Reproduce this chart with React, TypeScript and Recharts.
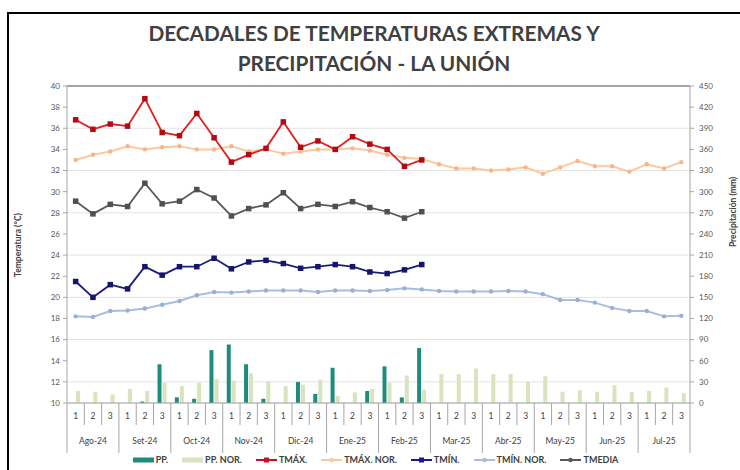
import React from 'react';
import {
  ComposedChart, Bar, Line, XAxis, YAxis, CartesianGrid, ReferenceLine,
} from 'recharts';

const months = ['Ago-24', 'Set-24', 'Oct-24', 'Nov-24', 'Dic-24', 'Ene-25', 'Feb-25', 'Mar-25', 'Abr-25', 'May-25', 'Jun-25', 'Jul-25'];
const decades = ['1', '2', '3'];

const tmax = [36.8, 35.9, 36.4, 36.2, 38.8, 35.6, 35.3, 37.4, 35.1, 32.8, 33.5, 34.1, 36.6, 34.2, 34.8, 34.0, 35.2, 34.5, 34.0, 32.4, 33.0];
const tmaxNor = [33.0, 33.5, 33.8, 34.3, 34.0, 34.2, 34.3, 34.0, 34.0, 34.3, 33.8, 34.0, 33.6, 33.8, 34.0, 34.0, 34.1, 33.9, 33.5, 33.2, 33.1, 32.6, 32.2, 32.2, 32.0, 32.1, 32.3, 31.7, 32.3, 32.9, 32.4, 32.4, 31.9, 32.6, 32.2, 32.8];
const tmedia = [29.1, 27.9, 28.8, 28.6, 30.8, 28.85, 29.1, 30.2, 29.4, 27.7, 28.4, 28.75, 29.9, 28.4, 28.8, 28.6, 29.05, 28.5, 28.1, 27.5, 28.1];
const tmin = [21.5, 20.0, 21.2, 20.8, 22.9, 22.1, 22.9, 22.9, 23.7, 22.7, 23.35, 23.5, 23.2, 22.75, 22.9, 23.1, 22.9, 22.4, 22.25, 22.6, 23.1];
const tminNor = [18.2, 18.15, 18.7, 18.75, 18.95, 19.3, 19.65, 20.2, 20.5, 20.45, 20.55, 20.65, 20.65, 20.65, 20.5, 20.65, 20.65, 20.6, 20.7, 20.85, 20.75, 20.6, 20.55, 20.55, 20.55, 20.6, 20.55, 20.3, 19.75, 19.75, 19.5, 19.0, 18.7, 18.7, 18.2, 18.25];
const pp = [0, 0, 0, 0, 2, 55, 8, 6, 75, 83, 55, 6, 0, 30, 13, 50, 0, 17, 52, 8, 78];
const ppNor = [17, 16, 12, 20, 17, 29, 24, 29, 34, 32, 42, 31, 24, 26, 33, 10, 15, 20, 29, 39, 19, 41, 41, 49, 41, 41, 30, 38, 16, 18, 16, 25, 16, 17, 22, 14];

const tempTicks = [10, 12, 14, 16, 18, 20, 22, 24, 26, 28, 30, 32, 34, 36, 38, 40];
const ppTicks = [0, 30, 60, 90, 120, 150, 180, 210, 240, 270, 300, 330, 360, 390, 420, 450];

const data = months.flatMap((m, mi) =>
  decades.map((d, di) => {
    const i = mi * 3 + di;
    return {
      key: `${m}-${d}`,
      month: m,
      dec: d,
      tmax: tmax[i] ?? null,
      tmaxNor: tmaxNor[i] ?? null,
      tmedia: tmedia[i] ?? null,
      tmin: tmin[i] ?? null,
      tminNor: tminNor[i] ?? null,
      pp: pp[i] ?? null,
      ppNor: ppNor[i] ?? null,
    };
  })
);

const FONT = 'Lato, "Open Sans", sans-serif';
const N = data.length;
const PLOT_W = 623;

const squareDot = (fill: string, size: number) => (props: any) => {
  const { cx, cy, index } = props;
  if (cx == null || cy == null) return <g key={`e${index}`} />;
  return <rect key={`d${index}`} x={cx - size / 2} y={cy - size / 2} width={size} height={size} fill={fill} />;
};
const circleDot = (fill: string, r: number) => (props: any) => {
  const { cx, cy, index } = props;
  if (cx == null || cy == null) return <g key={`e${index}`} />;
  return <circle key={`d${index}`} cx={cx} cy={cy} r={r} fill={fill} />;
};

const CatTick = (props: any) => {
  const { x, y, payload, index } = props;
  const half = payload && payload.offset ? payload.offset : PLOT_W / N / 2;
  const item = data[index] || data[0];
  const di = decades.indexOf(item.dec);
  const sepColor = '#A6A6A6';
  return (
    <g>
      <line x1={x - half} x2={x - half} y1={y} y2={y + (di === 0 ? 50 : 22)} stroke={sepColor} strokeWidth={1} />
      {index === N - 1 && (
        <line x1={x + half} x2={x + half} y1={y} y2={y + 50} stroke={sepColor} strokeWidth={1} />
      )}
      <text x={x} y={y + 16} textAnchor="middle" fontSize={8.5} fill="#404040" fontFamily={FONT}>{item.dec}</text>
      {di === 1 && (
        <text x={x} y={y + 41} textAnchor="middle" fontSize={8.5} fill="#404040" fontFamily={FONT}>{item.month}</text>
      )}
    </g>
  );
};

const LegendItem = ({ kind, color, marker, label }: any) => (
  <div style={{ display: 'flex', alignItems: 'center', marginRight: 14 }}>
    <svg width={21} height={8} style={{ marginRight: 2 }}>
      {kind === 'bar' ? (
        <rect x={0} y={1.5} width={21} height={5} fill={color} />
      ) : (
        <g>
          <line x1={0} x2={21} y1={4} y2={4} stroke={color} strokeWidth={2} />
          {marker === 'square' ? (
            <rect x={8} y={1.5} width={5} height={5} fill={color} />
          ) : (
            <circle cx={10.5} cy={4} r={2.2} fill={color} />
          )}
        </g>
      )}
    </svg>
    <span>{label}</span>
  </div>
);

export default function App() {
  return (
    <div style={{ position: 'fixed', left: 0, top: 0, width: 740, height: 470, overflow: 'hidden', background: '#fff' }}>
      <div style={{ position: 'absolute', left: 7, top: 12, width: 760, height: 490, border: '2px solid #000', boxSizing: 'border-box' }} />
      <div style={{ position: 'absolute', left: 0, top: 18, width: 748, textAlign: 'center', fontFamily: FONT, fontWeight: 700, fontSize: 20.8, lineHeight: '30px', color: '#404040' }}>
        DECADALES DE TEMPERATURAS EXTREMAS Y<br />PRECIPITACIÓN - LA UNIÓN
      </div>
      <div style={{ position: 'absolute', left: 0, top: 0 }}>
        <ComposedChart width={740} height={470} data={data} margin={{ top: 86, right: 0, bottom: 12, left: 0 }} barGap={1} barSize={4}>
          <CartesianGrid vertical={false} stroke="#E3E3E3" yAxisId="left" />
          <XAxis dataKey="key" interval={0} tick={<CatTick />} tickLine={false} tickSize={0} tickMargin={0} height={55} axisLine={{ stroke: '#A6A6A6' }} />
          <YAxis yAxisId="left" domain={[10, 40]} ticks={tempTicks} width={67} tickSize={4} tickMargin={3}
            tick={{ fontSize: 8, fill: '#595959', fontFamily: FONT }} axisLine={{ stroke: '#A6A6A6' }} tickLine={{ stroke: '#A6A6A6' }} allowDataOverflow />
          <YAxis yAxisId="right" orientation="right" domain={[0, 450]} ticks={ppTicks} width={50} tickSize={4} tickMargin={5}
            tick={{ fontSize: 8, fill: '#595959', fontFamily: FONT }} axisLine={{ stroke: '#A6A6A6' }} tickLine={{ stroke: '#A6A6A6' }} />
          <ReferenceLine yAxisId="left" y={40} stroke="#8C8C8C" strokeWidth={1.5} />
          <Bar yAxisId="right" dataKey="pp" fill="#1D8C7C" isAnimationActive={false} />
          <Bar yAxisId="right" dataKey="ppNor" fill="#D7E4BD" isAnimationActive={false} />
          <Line yAxisId="left" dataKey="tmaxNor" stroke="#FBC9A0" strokeWidth={2} dot={circleDot('#F6B68A', 2.2)} isAnimationActive={false} />
          <Line yAxisId="left" dataKey="tminNor" stroke="#A9BEDF" strokeWidth={2} dot={circleDot('#98B0D6', 2.2)} isAnimationActive={false} />
          <Line yAxisId="left" dataKey="tmax" stroke="#E0201E" strokeWidth={1.8} dot={squareDot('#B00A14', 5.5)} isAnimationActive={false} />
          <Line yAxisId="left" dataKey="tmedia" stroke="#595959" strokeWidth={1.8} dot={squareDot('#505050', 5.5)} isAnimationActive={false} />
          <Line yAxisId="left" dataKey="tmin" stroke="#1C1C80" strokeWidth={1.8} dot={squareDot('#15156A', 5.5)} isAnimationActive={false} />
        </ComposedChart>
      </div>
      <div style={{ position: 'absolute', left: 18, top: 245, transform: 'translate(-50%, -50%) rotate(-90deg)', fontFamily: FONT, fontWeight: 700, fontSize: 8.5, color: '#404040', whiteSpace: 'nowrap' }}>
        Temperatura (°C)
      </div>
      <div style={{ position: 'absolute', left: 733, top: 212, transform: 'translate(-50%, -50%) rotate(-90deg)', fontFamily: FONT, fontWeight: 700, fontSize: 8.5, color: '#404040', whiteSpace: 'nowrap' }}>
        Precipitación (mm)
      </div>
      <div style={{ position: 'absolute', left: 0, top: 454, width: 765, display: 'flex', justifyContent: 'center', fontFamily: FONT, fontWeight: 700, fontSize: 9, color: '#404040', lineHeight: '12px' }}>
        <LegendItem kind="bar" color="#1D8C7C" label="PP." />
        <LegendItem kind="bar" color="#D7E4BD" label="PP. NOR." />
        <LegendItem kind="line" color="#C8101A" marker="square" label="TMÁX." />
        <LegendItem kind="line" color="#FBC9A0" marker="circle" label="TMÁX. NOR." />
        <LegendItem kind="line" color="#1C1C80" marker="square" label="TMÍN." />
        <LegendItem kind="line" color="#A9BEDF" marker="circle" label="TMÍN. NOR." />
        <LegendItem kind="line" color="#595959" marker="circle" label="TMEDIA" />
      </div>
    </div>
  );
}
